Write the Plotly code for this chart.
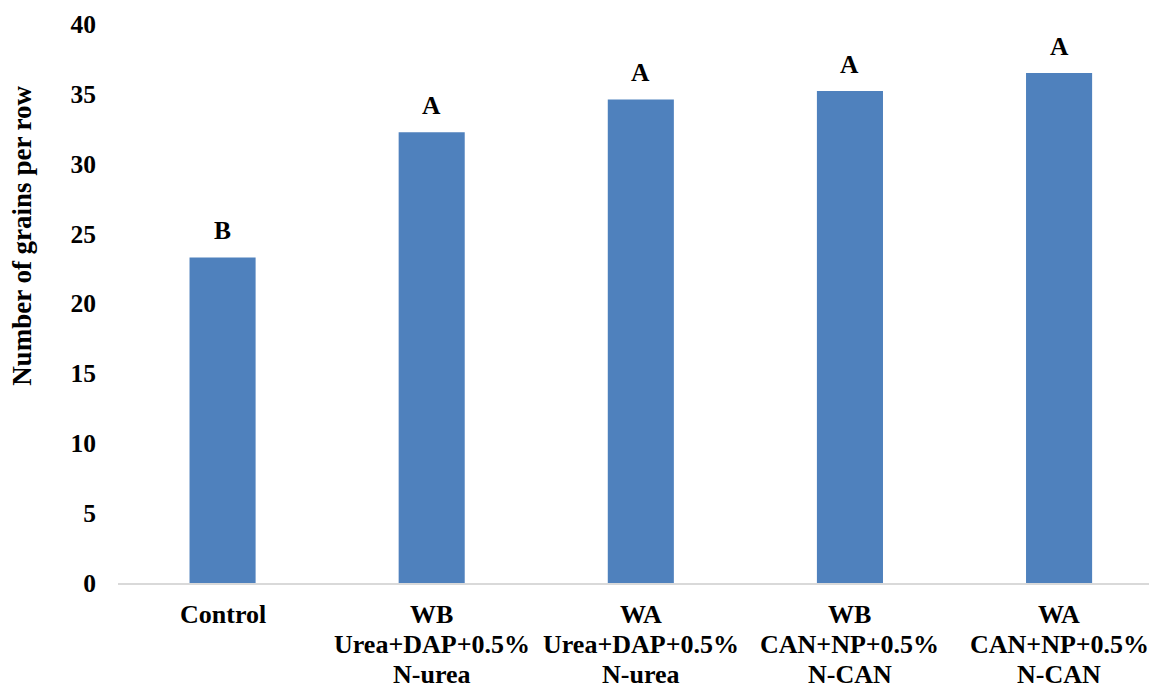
import plotly.graph_objects as go

categories = ["Control",
              "WB<br>Urea+DAP+0.5%<br>N-urea",
              "WA<br>Urea+DAP+0.5%<br>N-urea",
              "WB<br>CAN+NP+0.5%<br>N-CAN",
              "WA<br>CAN+NP+0.5%<br>N-CAN"]
values = [23.3, 32.25, 34.6, 35.2, 36.5]
letters = ["B", "A", "A", "A", "A"]
y_ticks = [0, 5, 10, 15, 20, 25, 30, 35, 40]
y_title = "Number of grains per row"

font_family = "Liberation Serif, Times New Roman, serif"
FS = 25.5
XFS = 26

fig = go.Figure()
fig.add_trace(go.Bar(
    x=list(range(len(categories))), y=values,
    marker=dict(color="#4F81BD", line=dict(width=0)),
    width=0.316,
))

for i, (v, t) in enumerate(zip(values, letters)):
    fig.add_annotation(x=i, y=v, text="<b>%s</b>" % t, showarrow=False,
                       yanchor="bottom", yshift=10,
                       font=dict(family=font_family, size=FS, color="black"))

# category labels: one annotation per line for Excel-like tight line spacing
line_step = 30
for i, c in enumerate(categories):
    for k, line in enumerate(c.split("<br>")):
        fig.add_annotation(x=i, y=0, yref="y", text="<b>%s</b>" % line,
                           showarrow=False, xanchor="center", yanchor="middle",
                           yshift=-31 - k * line_step,
                           font=dict(family=font_family, size=XFS, color="black"))

# y-axis title placed as rotated annotation (off-centre as in reference)
fig.add_annotation(xref="paper", yref="paper", x=-0.0931, y=0.621,
                   xanchor="center", yanchor="middle", textangle=-90,
                   text="<b>%s</b>" % y_title, showarrow=False,
                   font=dict(family=font_family, size=27, color="black"))

fig.update_layout(
    width=1149, height=686,
    margin=dict(l=118, r=0, t=24, b=103),
    plot_bgcolor="white", paper_bgcolor="white",
    showlegend=False,
    font=dict(family=font_family, size=FS, color="black"),
    xaxis=dict(
        tickmode="array", tickvals=list(range(len(categories))),
        showticklabels=False,
        range=[-0.5, 4.43], automargin=False,
        showline=True, linecolor="#d9d9d9", linewidth=2,
        ticks="", showgrid=False, zeroline=False,
    ),
    yaxis=dict(
        range=[0, 40], tickmode="array", tickvals=y_ticks,
        ticktext=["<b>%d</b>" % t for t in y_ticks],
        showgrid=False, zeroline=False, showline=False, ticks="",
        ticklabelstandoff=21, automargin=False,
        tickfont=dict(family=font_family, size=FS, color="black"),
    ),
)

fig.write_html("out.html", config={"displayModeBar": False},
               post_script="document.body.style.margin='0';")
